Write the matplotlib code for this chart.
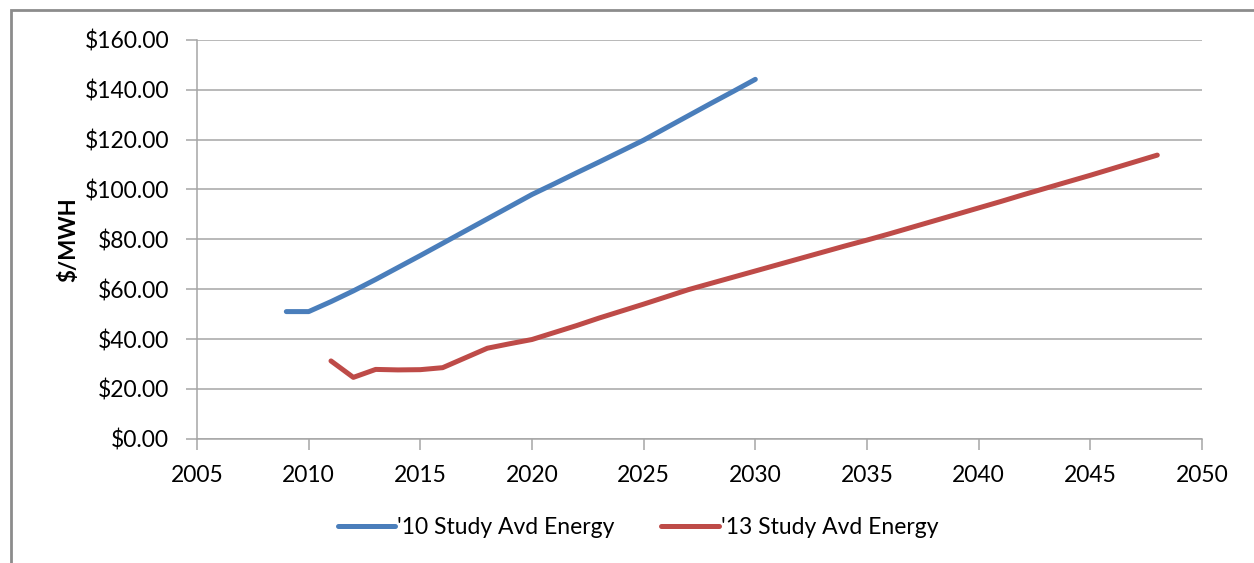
import matplotlib
matplotlib.use("Agg")
import matplotlib.pyplot as plt
from matplotlib.patches import Rectangle
from matplotlib.ticker import FuncFormatter, MultipleLocator

plt.rcParams['font.family'] = ['Lato', 'DejaVu Sans']

# avoided energy cost, $/MWH
years_10 = list(range(2009, 2031))
avd_10 = [51.0, 51.0, 55.0, 59.3, 63.9, 68.7, 73.5, 78.4, 83.3, 88.2, 93.1,
          98.0, 102.3, 106.7, 111.0, 115.4, 119.8, 124.7, 129.6, 134.5,
          139.3, 144.2]

years_13 = list(range(2011, 2049))
avd_13 = [31.2, 24.6, 27.8, 27.6, 27.7, 28.5, 32.4, 36.3, 38.1, 39.8, 42.6,
          45.4, 48.4, 51.2, 54.0, 56.9, 59.8, 62.3, 64.8, 67.3, 69.8, 72.3,
          74.8, 77.3, 79.7, 82.2, 84.8, 87.4, 90.0, 92.6, 95.2, 97.9, 100.5,
          103.1, 105.7, 108.4, 111.1, 113.8]

labels = ["'10 Study Avd Energy", "'13 Study Avd Energy"]
colors = ['#4A7EBB', '#BE4B48']

fig = plt.figure(figsize=(12.54, 5.63), dpi=100)
ax = fig.add_axes([0.1571, 0.2208, 0.8014, 0.7082])

ax.plot(years_10, avd_10, color=colors[0], lw=3.6, solid_capstyle='round',
        solid_joinstyle='round', label=labels[0])
ax.plot(years_13, avd_13, color=colors[1], lw=3.6, solid_capstyle='round',
        solid_joinstyle='round', label=labels[1])

ax.set_xlim(2005, 2050)
ax.set_ylim(0, 160)
ax.xaxis.set_major_locator(MultipleLocator(5))
ax.yaxis.set_major_locator(MultipleLocator(20))
ax.yaxis.set_major_formatter(FuncFormatter(lambda v, p: '${:.2f}'.format(v)))

ax.grid(axis='y', color='#a6a6a6', lw=1.1)
ax.set_axisbelow(True)
for side in ['top', 'right']:
    ax.spines[side].set_visible(False)
for side in ['left', 'bottom']:
    ax.spines[side].set_color('#a6a6a6')
    ax.spines[side].set_linewidth(1.1)
ax.tick_params(direction='out', length=8, width=1.1, color='#a6a6a6',
               labelsize=16.5, labelcolor='black')
ax.tick_params(axis='x', pad=11)
ax.tick_params(axis='y', pad=12)

ax.set_ylabel('$/MWH', fontsize=16, fontweight='bold', labelpad=4)

fig.legend(loc='center', bbox_to_anchor=(0.5088, 0.0622), ncol=2,
           frameon=False, fontsize=16.5, handlelength=2.5,
           handletextpad=0.1, columnspacing=2.05)

# outer chart frame
fig.patches.append(Rectangle((11 / 1254, -0.2), 1.2, 1.2 - 10 / 563,
                             transform=fig.transFigure, fill=False,
                             edgecolor='#8c8c8c', lw=2))

fig.savefig('out.png', dpi=100)
